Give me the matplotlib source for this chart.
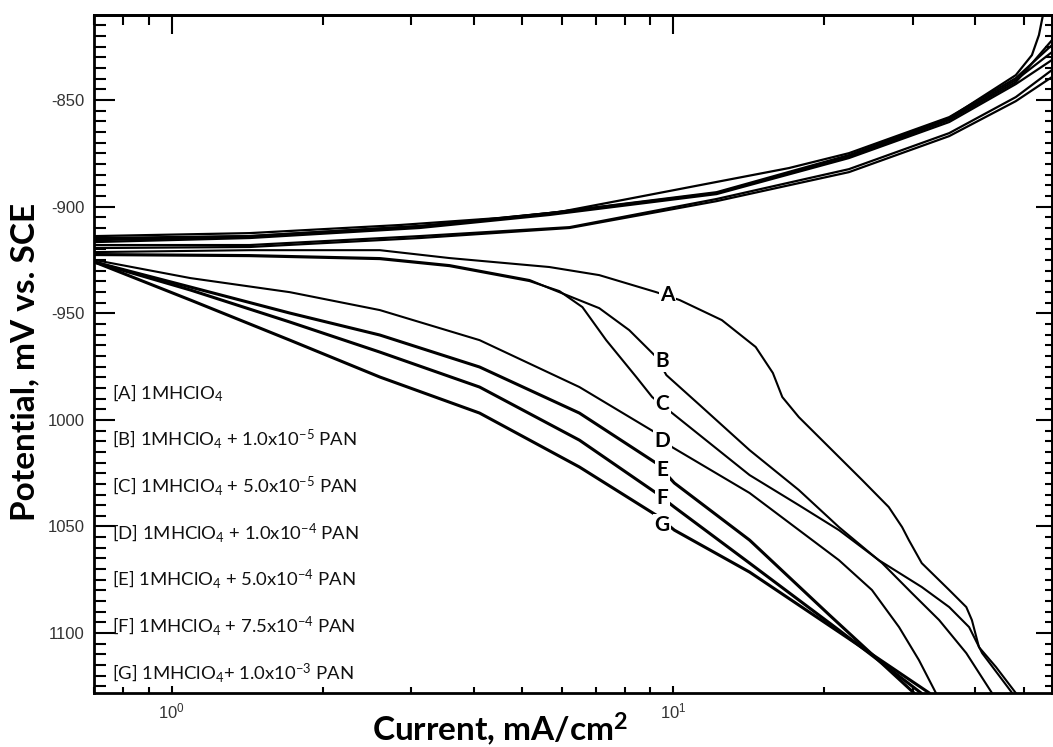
import matplotlib
matplotlib.use('Agg')

import matplotlib.pyplot as plt
from matplotlib.ticker import MultipleLocator, LogLocator, NullFormatter

plt.rcParams['font.family'] = ['Liberation Sans', 'DejaVu Sans']
plt.rcParams['mathtext.fontset'] = 'custom'
plt.rcParams['mathtext.rm'] = 'Lato'
plt.rcParams['mathtext.it'] = 'Lato:italic'
plt.rcParams['mathtext.bf'] = 'Lato:bold'

# ---- Tafel data: current density (mA/cm2) vs potential (mV vs SCE) ----
# cathodic branches
cath_A_i = [0.702, 1.43, 2.60, 3.58, 5.66, 7.12, 9.25, 10.3, 12.5, 14.6, 15.8, 16.5, 17.8,
            23.8, 26.9, 28.6, 29.5, 31.3, 35.5, 38.4, 39.4, 40.7, 44.0, 48.2, 49.6]
cath_A_E = [-921.3, -920.4, -920.4, -924.1, -928.3, -932.1, -940.1, -943.8, -953.2, -965.8,
            -978.0, -989.3, -998.7, -1028.2, -1040.9, -1050.3, -1056.4, -1067.2, -1079.8,
            -1087.8, -1093.9, -1106.6, -1115.9, -1128.1, -1133.0]

cath_B_i = [0.702, 1.43, 2.60, 3.58, 5.17, 5.66, 7.12, 8.17, 9.25, 9.69, 11.3, 14.2, 17.8,
            21.4, 26.1, 29.9, 33.9, 38.4, 43.2, 44.6]
cath_B_E = [-922.2, -922.7, -924.1, -927.4, -934.4, -938.2, -947.6, -957.9, -970.5, -979.0,
            -993.1, -1014.2, -1032.9, -1050.3, -1067.2, -1081.2, -1093.9, -1109.4, -1128.1,
            -1132.4]

cath_C_i = [0.702, 1.43, 2.60, 3.58, 5.17, 5.93, 6.59, 7.35, 8.44, 9.08, 9.95, 14.2, 17.8,
            21.4, 25.7, 31.3, 35.5, 38.9, 41.3, 47.4, 48.9]
cath_C_E = [-922.7, -923.2, -924.6, -927.9, -934.9, -939.6, -947.1, -962.6, -979.9, -989.3,
            -996.8, -1025.9, -1040.0, -1051.7, -1065.8, -1078.4, -1087.8, -1097.2, -1109.4,
            -1128.1, -1132.4]

cath_D_i = [0.702, 1.09, 1.72, 2.60, 4.11, 6.50, 9.25, 9.95, 14.2, 21.4, 24.9, 28.2, 30.9,
            33.4, 34.2]
cath_D_E = [-925.0, -933.5, -940.1, -948.5, -962.6, -984.6, -1006.2, -1012.8, -1034.3,
            -1065.8, -1079.8, -1097.2, -1112.7, -1128.1, -1132.4]

cath_E_i = [0.702, 1.09, 1.72, 2.60, 4.11, 6.50, 9.25, 10.05, 14.2, 20.5, 30.2, 31.2]
cath_E_E = [-926.0, -937.7, -949.9, -960.2, -975.2, -996.8, -1020.3, -1029.6, -1056.4,
            -1091.6, -1128.1, -1132.4]

cath_F_i = [0.702, 1.09, 1.72, 2.60, 4.11, 6.50, 9.25, 10.05, 14.2, 21.4, 31.2, 32.4]
cath_F_E = [-926.0, -939.1, -954.1, -968.2, -984.6, -1009.5, -1034.3, -1040.9, -1067.2,
            -1098.6, -1128.1, -1132.4]

cath_G_i = [0.702, 1.09, 1.72, 2.60, 4.11, 6.50, 9.25, 10.05, 14.2, 21.4, 32.4, 33.4]
cath_G_E = [-926.0, -943.8, -962.6, -979.9, -996.8, -1022.1, -1044.7, -1051.7, -1071.4,
            -1099.5, -1128.1, -1132.4]

# anodic branches
an_A_i = [0.702, 1.43, 2.85, 4.50, 5.93, 7.91, 11.3, 17.0, 22.4, 35.5, 48.2, 56.9]
an_A_E = [-913.8, -912.4, -908.6, -905.3, -902.5, -896.9, -889.9, -881.9, -874.9, -858.0,
          -839.7, -824.2]

an_B_i = [0.702, 1.43, 3.12, 5.66, 12.2, 22.4, 35.5, 48.2, 56.9]
an_B_E = [-914.7, -913.8, -909.1, -903.5, -893.6, -876.3, -858.9, -840.6, -827.5]

an_C_i = [0.702, 1.43, 3.12, 5.66, 12.2, 22.4, 35.5, 48.2, 51.9, 53.6, 54.6, 54.9]
an_C_E = [-915.7, -914.3, -909.6, -903.0, -893.2, -875.8, -858.4, -838.3, -828.9, -819.5,
          -810.1, -805.0]

an_D_i = [0.702, 1.43, 3.12, 5.66, 12.2, 22.4, 35.5, 48.2, 56.9]
an_D_E = [-916.6, -914.7, -910.0, -903.9, -894.1, -877.2, -860.3, -842.5, -831.2]

an_E_i = [0.702, 1.43, 3.12, 6.21, 12.2, 22.4, 35.5, 48.2, 56.9]
an_E_E = [-918.0, -918.0, -913.8, -909.6, -896.4, -882.4, -865.5, -848.6, -835.9]

an_F_i = [0.702, 1.43, 3.12, 6.21, 12.2, 22.4, 35.5, 48.2, 56.9]
an_F_E = [-919.4, -918.9, -914.7, -910.0, -897.4, -883.8, -866.9, -850.5, -839.2]

an_G_i = [0.702, 1.43, 3.12, 5.66, 12.2, 22.4, 35.5, 48.2, 56.9]
an_G_E = [-915.2, -913.8, -909.1, -903.0, -893.6, -876.7, -859.4, -841.6, -821.9]

curve_letters = ['A', 'B', 'C', 'D', 'E', 'F', 'G']
legend_lines = [
    r'[A] 1MHClO$_4$',
    r'[B] 1MHClO$_4$ + 1.0x10$^{-5}$ PAN',
    r'[C] 1MHClO$_4$ + 5.0x10$^{-5}$ PAN',
    r'[D] 1MHClO$_4$ + 1.0x10$^{-4}$ PAN',
    r'[E] 1MHClO$_4$ + 5.0x10$^{-4}$ PAN',
    r'[F] 1MHClO$_4$ + 7.5x10$^{-4}$ PAN',
    r'[G] 1MHClO$_4$+ 1.0x10$^{-3}$ PAN',
]
y_ticks = [-850, -900, -950, -1000, -1050, -1100]
y_tick_labels = ['-850', '-900', '-950', '1000', '1050', '1100']

# where the curve letters sit (current, potential)
letter_pos = [(9.73, -941.5), (9.51, -972.4), (9.51, -992.6), (9.51, -1009.9),
              (9.51, -1023.5), (9.51, -1036.7), (9.51, -1049.3)]

fig = plt.figure(figsize=(10.53, 7.47), dpi=100)
ax = fig.add_axes([0.0893, 0.0723, 0.9097, 0.9076])

cathodic = [(cath_A_i, cath_A_E), (cath_B_i, cath_B_E), (cath_C_i, cath_C_E),
            (cath_D_i, cath_D_E), (cath_E_i, cath_E_E), (cath_F_i, cath_F_E),
            (cath_G_i, cath_G_E)]
anodic = [(an_A_i, an_A_E), (an_B_i, an_B_E), (an_C_i, an_C_E), (an_D_i, an_D_E),
          (an_E_i, an_E_E), (an_F_i, an_F_E), (an_G_i, an_G_E)]

for k, ((ci, ce), (ai, ae)) in enumerate(zip(cathodic, anodic)):
    lw = 1.5 if k < 4 else 2.2
    ax.plot(ci, ce, color='black', lw=lw, solid_joinstyle='round', zorder=2)
    ax.plot(ai, ae, color='black', lw=1.6, solid_joinstyle='round', zorder=2)

for letter, (xp, yp) in zip(curve_letters, letter_pos):
    ax.text(xp, yp, letter, family='Lato', fontsize=15, fontweight='bold',
            ha='center', va='center', zorder=4,
            bbox=dict(facecolor='white', edgecolor='none', pad=1.0))

for k, line in enumerate(legend_lines):
    ax.text(0.019, 0.4425 - k * 0.0688, line, transform=ax.transAxes,
            family='Lato', fontsize=13.3, ha='left', va='center', color='#111111')

ax.set_xscale('log')
ax.set_xlim(0.7, 56.9)
ax.set_ylim(-1128.1, -810.1)

ax.xaxis.set_major_locator(LogLocator(base=10))
ax.xaxis.set_minor_locator(LogLocator(base=10, subs=range(2, 10)))
ax.xaxis.set_minor_formatter(NullFormatter())
ax.set_yticks(y_ticks, y_tick_labels)
ax.yaxis.set_minor_locator(MultipleLocator(5))

ax.tick_params(axis='both', labelsize=12, labelcolor='#333333')
ax.tick_params(axis='y', which='major', direction='in', length=15, width=1.5, pad=7)
ax.tick_params(axis='y', which='minor', direction='in', length=8.5, width=1.5)
ax.tick_params(axis='x', which='major', direction='in', length=5, width=1.5, pad=6)
ax.tick_params(axis='x', which='minor', direction='in', length=4, width=1.5)

# separate tick lengths on the top and right edges
top = ax.secondary_xaxis('top')
top.xaxis.set_major_locator(LogLocator(base=10))
top.xaxis.set_minor_locator(LogLocator(base=10, subs=range(2, 10)))
top.xaxis.set_major_formatter(NullFormatter())
top.xaxis.set_minor_formatter(NullFormatter())
top.tick_params(which='major', direction='in', length=14, width=1.5)
top.tick_params(which='minor', direction='in', length=7, width=1.5)

right = ax.secondary_yaxis('right')
right.yaxis.set_major_locator(MultipleLocator(50))
right.yaxis.set_minor_locator(MultipleLocator(5))
right.yaxis.set_major_formatter(NullFormatter())
right.tick_params(which='major', direction='in', length=11.5, width=1.5)
right.tick_params(which='minor', direction='in', length=5, width=1.5)

for a in (ax, top, right):
    for sp in a.spines.values():
        sp.set_linewidth(2)

fig.text(0.024, 0.515, 'Potential, mV vs. SCE', rotation=90, family='Lato',
         fontsize=24, fontweight='bold', ha='center', va='center')
fig.text(0.475, 0.024, r'Current, mA/cm$^\mathbf{2}$', family='Lato',
         fontsize=24, fontweight='bold', ha='center', va='center')

fig.savefig('out.png', dpi=100)
